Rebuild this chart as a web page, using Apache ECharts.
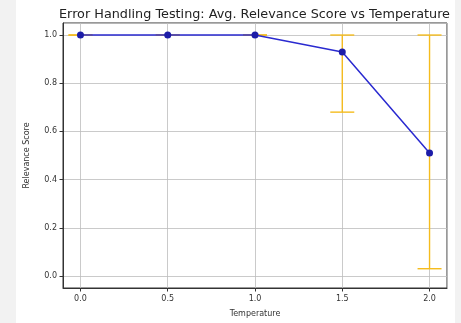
<!DOCTYPE html>
<html>
<head>
<meta charset="utf-8">
<script src="https://cdn.jsdelivr.net/npm/echarts@6/dist/echarts.min.js"></script>
<style>
  html, body { margin: 0; padding: 0; background: #f2f2f2; }
  #panel { position: absolute; left: 16px; top: 0; width: 439px; height: 323px; background: #ffffff; }
  #chart { position: absolute; left: 0; top: 0; width: 461px; height: 323px; }
</style>
</head>
<body>
<div id="panel"></div>
<div id="chart"></div>
<script>
// Average relevance score per temperature setting, with error ranges
const temperatures = [0.0, 0.5, 1.0, 1.5, 2.0];
const avgScores = [1.0, 1.0, 1.0, 0.93, 0.51];
const errLower = [1.0, 1.0, 1.0, 0.68, 0.03];
const errUpper = [1.0, 1.0, 1.0, 1.0, 1.0];

const FONT = 'DejaVu Sans';
const TEXT = '#333333';

const chart = echarts.init(document.getElementById('chart'), null, { renderer: 'canvas' });

const lineData = temperatures.map((t, i) => [t, avgScores[i]]);
const errData = temperatures.map((t, i) => [t, errLower[i], errUpper[i]]);

chart.setOption({
  backgroundColor: 'transparent',
  animation: false,
  title: {
    text: 'Error Handling Testing: Avg. Relevance Score vs Temperature',
    left: 249.5, top: 3, textAlign: 'center',
    textStyle: { fontFamily: FONT, fontSize: 12.8, fontWeight: 'normal', color: '#222' }
  },
  grid: {
    left: 63, right: 14, top: 23, bottom: 33,
    show: true, borderColor: '#333', borderWidth: 1, backgroundColor: 'transparent'
  },
  xAxis: {
    type: 'value', min: -0.1, max: 2.1, splitNumber: 5,
    name: 'Temperature', nameLocation: 'middle', nameGap: 22,
    nameTextStyle: { fontFamily: FONT, fontSize: 8, color: TEXT },
    axisLine: { show: true, onZero: false, lineStyle: { color: '#333', width: 1 } },
    axisTick: { show: true, length: 3.5, lineStyle: { color: '#333' } },
    axisLabel: {
      showMinLabel: false, showMaxLabel: false, margin: 7,
      fontFamily: FONT, fontSize: 8, color: TEXT,
      formatter: v => v.toFixed(1)
    },
    splitLine: { show: true, lineStyle: { color: '#bdbdbd', width: 0.8 } }
  },
  yAxis: {
    type: 'value', min: -0.05, max: 1.05, splitNumber: 5,
    name: 'Relevance Score', nameLocation: 'middle', nameGap: 32,
    nameTextStyle: { fontFamily: FONT, fontSize: 8, color: TEXT },
    axisLine: { show: true, onZero: false, lineStyle: { color: '#333', width: 1 } },
    axisTick: { show: true, length: 3.5, lineStyle: { color: '#333' } },
    axisLabel: {
      showMinLabel: false, showMaxLabel: false, margin: 6,
      fontFamily: FONT, fontSize: 8, color: TEXT,
      formatter: v => v.toFixed(1)
    },
    splitLine: { show: true, lineStyle: { color: '#bdbdbd', width: 0.8 } }
  },
  series: [
    {
      type: 'custom',
      z: 2,
      data: errData,
      renderItem: function (params, api) {
        const x = api.value(0);
        const lo = api.coord([x, api.value(1)]);
        const hi = api.coord([x, api.value(2)]);
        const cap = 12;
        const style = { stroke: '#f5bc1e', lineWidth: 1.4, fill: null };
        return {
          type: 'group',
          children: [
            { type: 'line', shape: { x1: lo[0], y1: lo[1], x2: hi[0], y2: hi[1] }, style },
            { type: 'line', shape: { x1: lo[0] - cap, y1: lo[1], x2: lo[0] + cap, y2: lo[1] }, style },
            { type: 'line', shape: { x1: hi[0] - cap, y1: hi[1], x2: hi[0] + cap, y2: hi[1] }, style }
          ]
        };
      }
    },
    {
      type: 'line',
      z: 3,
      data: lineData,
      symbol: 'circle',
      symbolSize: 7,
      lineStyle: { color: '#2a2ad0', width: 1.5 },
      itemStyle: { color: '#1c1ca8', borderColor: '#1c1ca8', borderWidth: 0 }
    }
  ]
});
</script>
</body>
</html>
